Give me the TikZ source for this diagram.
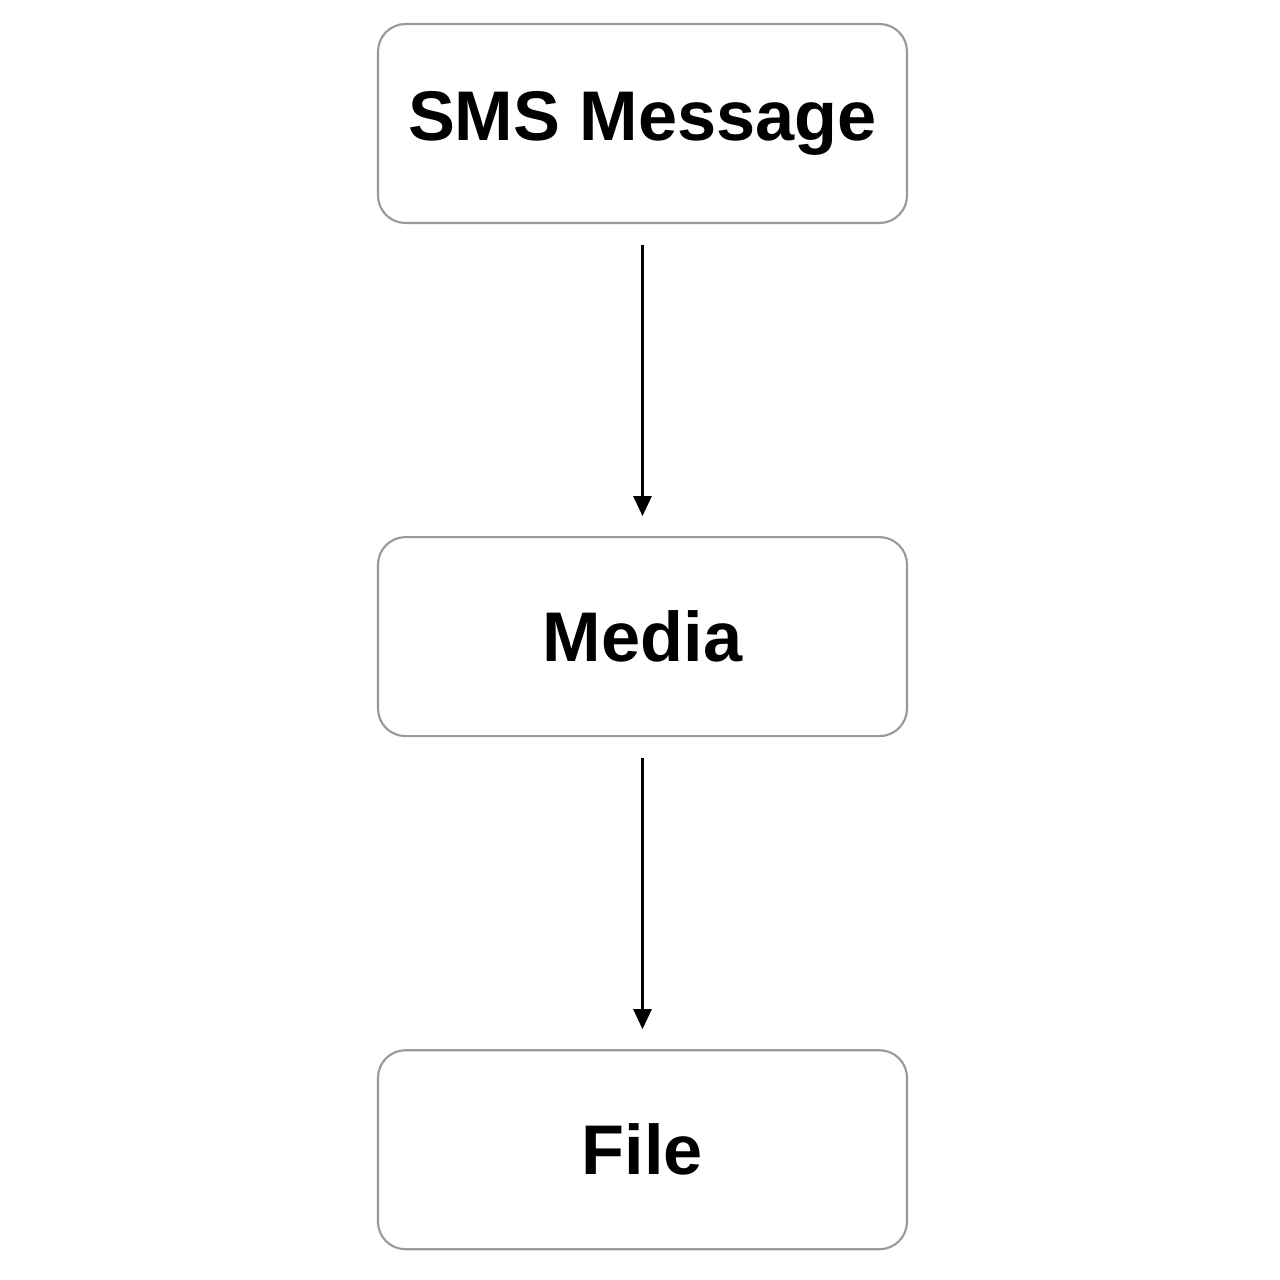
\documentclass[tikz,border=0pt]{standalone}
\usepackage{fontspec}
\setmainfont{Liberation Sans}
\usetikzlibrary{arrows.meta,positioning}
\begin{document}
\begin{tikzpicture}[%
% common options for the boxes:
block/.style = {draw=black!40, line width=1.2pt, rounded corners=0.55cm,
            minimum width=10.58cm, minimum height=3.98cm, align=center,
            font=\fontsize{40}{48}\selectfont\bfseries},
% common options for the arrows:
link/.style = {-{Triangle[width=0.36cm,length=0.4cm]}, line width=1.6pt,
            shorten <=0.42cm, shorten >=0.4cm}]
\useasboundingbox (0,0) rectangle (25.6,-25.6);
\node[block] (sms) at (12.85,-2.47) {SMS Message};
\node[block, below=6.24cm of sms] (media) {Media};
\node[block, below=6.24cm of media] (file) {File};
\draw[link] (sms.south) to (media.north);
\draw[link] (media.south) to (file.north);
\end{tikzpicture}
\end{document}
